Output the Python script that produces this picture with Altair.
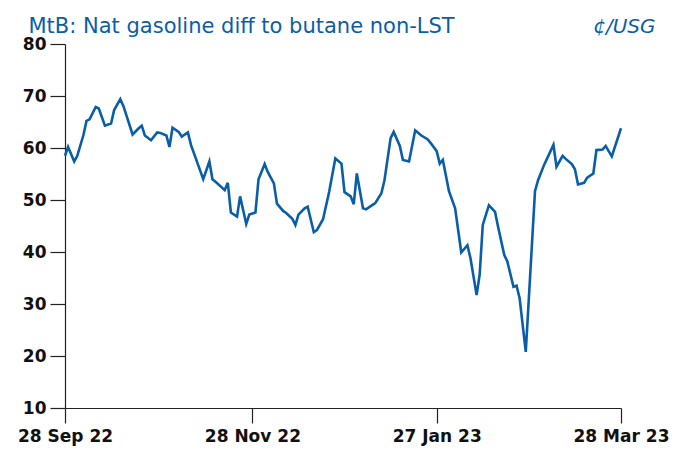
import altair as alt
import pandas as pd

# ---- data ----
dates = [
    "2022-09-28", "2022-09-29", "2022-10-01", "2022-10-02", "2022-10-04", "2022-10-05",
    "2022-10-06", "2022-10-08", "2022-10-09", "2022-10-11", "2022-10-13", "2022-10-14",
    "2022-10-16", "2022-10-17", "2022-10-20", "2022-10-22", "2022-10-23", "2022-10-24",
    "2022-10-26", "2022-10-28", "2022-10-29", "2022-10-31", "2022-11-01", "2022-11-02",
    "2022-11-04", "2022-11-05", "2022-11-07", "2022-11-08", "2022-11-12", "2022-11-14",
    "2022-11-15", "2022-11-16", "2022-11-19", "2022-11-20", "2022-11-21", "2022-11-23",
    "2022-11-24", "2022-11-26", "2022-11-27", "2022-11-29", "2022-11-30", "2022-12-02",
    "2022-12-03", "2022-12-05", "2022-12-06", "2022-12-08", "2022-12-09", "2022-12-11",
    "2022-12-12", "2022-12-13", "2022-12-15", "2022-12-16", "2022-12-18", "2022-12-19",
    "2022-12-21", "2022-12-23", "2022-12-25", "2022-12-27", "2022-12-28", "2022-12-30",
    "2022-12-31", "2023-01-01", "2023-01-03", "2023-01-04", "2023-01-06", "2023-01-07",
    "2023-01-09", "2023-01-10", "2023-01-12", "2023-01-13", "2023-01-15", "2023-01-16",
    "2023-01-18", "2023-01-20", "2023-01-22", "2023-01-24", "2023-01-25", "2023-01-27",
    "2023-01-28", "2023-01-29", "2023-01-31", "2023-02-02", "2023-02-04", "2023-02-06",
    "2023-02-07", "2023-02-09", "2023-02-10", "2023-02-11", "2023-02-13", "2023-02-15",
    "2023-02-16", "2023-02-18", "2023-02-19", "2023-02-21", "2023-02-22", "2023-02-23",
    "2023-02-25", "2023-02-28", "2023-03-01", "2023-03-03", "2023-03-06", "2023-03-07",
    "2023-03-09", "2023-03-10", "2023-03-12", "2023-03-13", "2023-03-14", "2023-03-16",
    "2023-03-17", "2023-03-19", "2023-03-20", "2023-03-22", "2023-03-23", "2023-03-25",
    "2023-03-28",
]
values = [
    58.5, 60.2, 57.4, 58.5, 62.5, 65.2,
    65.5, 67.9, 67.6, 64.3, 64.7, 67.3,
    69.4, 68.1, 62.6, 63.8, 64.3, 62.4,
    61.5, 63.0, 62.9, 62.4, 60.2, 63.9,
    63.1, 62.2, 63.0, 60.6, 54.0, 57.4,
    54.0, 53.5, 51.9, 53.3, 47.6, 46.8,
    50.7, 45.4, 47.2, 47.6, 54.0, 56.9,
    55.4, 53.2, 49.3, 47.9, 47.5, 46.4,
    45.2, 47.2, 48.4, 48.7, 43.8, 44.2,
    46.3, 51.6, 58.0, 57.0, 51.5, 50.7,
    49.2, 55.1, 48.4, 48.2, 49.0, 49.4,
    51.3, 53.8, 61.9, 63.1, 60.4, 57.7,
    57.4, 63.4, 62.4, 61.7, 61.0, 59.4,
    57.0, 57.7, 51.7, 48.4, 39.9, 41.3,
    38.8, 31.7, 35.7, 45.2, 49.0, 47.7,
    44.8, 39.4, 38.2, 33.3, 33.5, 31.1,
    20.8, 51.7, 53.8, 56.8, 60.6, 56.4,
    58.5, 57.9, 56.9, 55.9, 53.0, 53.3,
    54.3, 55.1, 59.6, 59.7, 60.4, 58.4,
    63.8,
]
x_tick_dates = ["2022-09-28", "2022-11-28", "2023-01-27", "2023-03-28"]
y_ticks = [10, 20, 30, 40, 50, 60, 70, 80]
title_text = "MtB: Nat gasoline diff to butane non-LST"
unit_text = "¢/USG"

BLUE = "#0a5ea8"
AXIS = "#222222"
FONT = "DejaVu Sans"
PLOT_W = 556
PLOT_H = 364

df = pd.DataFrame({"date": dates, "value": values})


def ms(d):
    return int(pd.Timestamp(d, tz="UTC").timestamp() * 1000)


x_ticks = [ms(d) for d in x_tick_dates]

chart = (
    alt.Chart(df)
    .mark_line(color=BLUE, strokeWidth=2.6)
    .encode(
        x=alt.X(
            "date:T",
            scale=alt.Scale(type="utc", domain=[x_ticks[0], x_ticks[-1]]),
            axis=alt.Axis(
                values=x_ticks,
                labelExpr="utcFormat(datum.value, '%d %b %y')",
                grid=False,
                tickSize=15,
                tickColor=AXIS,
                tickWidth=1.2,
                domainColor=AXIS,
                domainWidth=1.2,
                labelPadding=5,
                labelFont=FONT,
                labelFontSize=17,
                labelFontWeight="bold",
                labelColor="#111111",
                labelAngle=0,
                labelAlign="center",
                labelOverlap=False,
                labelBound=False,
                labelFlush=False,
                # chart heading, placed above the plot's top-left corner
                title=title_text,
                titleX=-37,
                titleY=-PLOT_H - 12,
                titleAlign="left",
                titleAnchor="start",
                titleBaseline="alphabetic",
                titleFont=FONT,
                titleFontSize=21,
                titleFontWeight="normal",
                titleColor=BLUE,
            ),
        ),
        y=alt.Y(
            "value:Q",
            scale=alt.Scale(domain=[10, 80], nice=False, zero=False),
            axis=alt.Axis(
                values=y_ticks,
                grid=False,
                tickSize=15,
                tickColor=AXIS,
                tickWidth=1.2,
                domainColor=AXIS,
                domainWidth=1.2,
                labelPadding=4,
                labelFont=FONT,
                labelFontSize=17,
                labelFontWeight="bold",
                labelColor="#111111",
                title=unit_text,
                titleAngle=0,
                titleX=590,
                titleY=-12,
                titleAlign="right",
                titleBaseline="alphabetic",
                titleFont=FONT,
                titleFontSize=20,
                titleFontStyle="italic",
                titleFontWeight="normal",
                titleColor=BLUE,
            ),
        ),
    )
    .properties(
        width=PLOT_W,
        height=PLOT_H,
        autosize=alt.AutoSizeParams(type="none"),
        padding={"left": 57, "top": 36, "right": 49, "bottom": 38},
        background="white",
    )
    .configure_view(stroke=None)
)

chart.save("out.html", embed_options={"renderer": "svg", "actions": False})
